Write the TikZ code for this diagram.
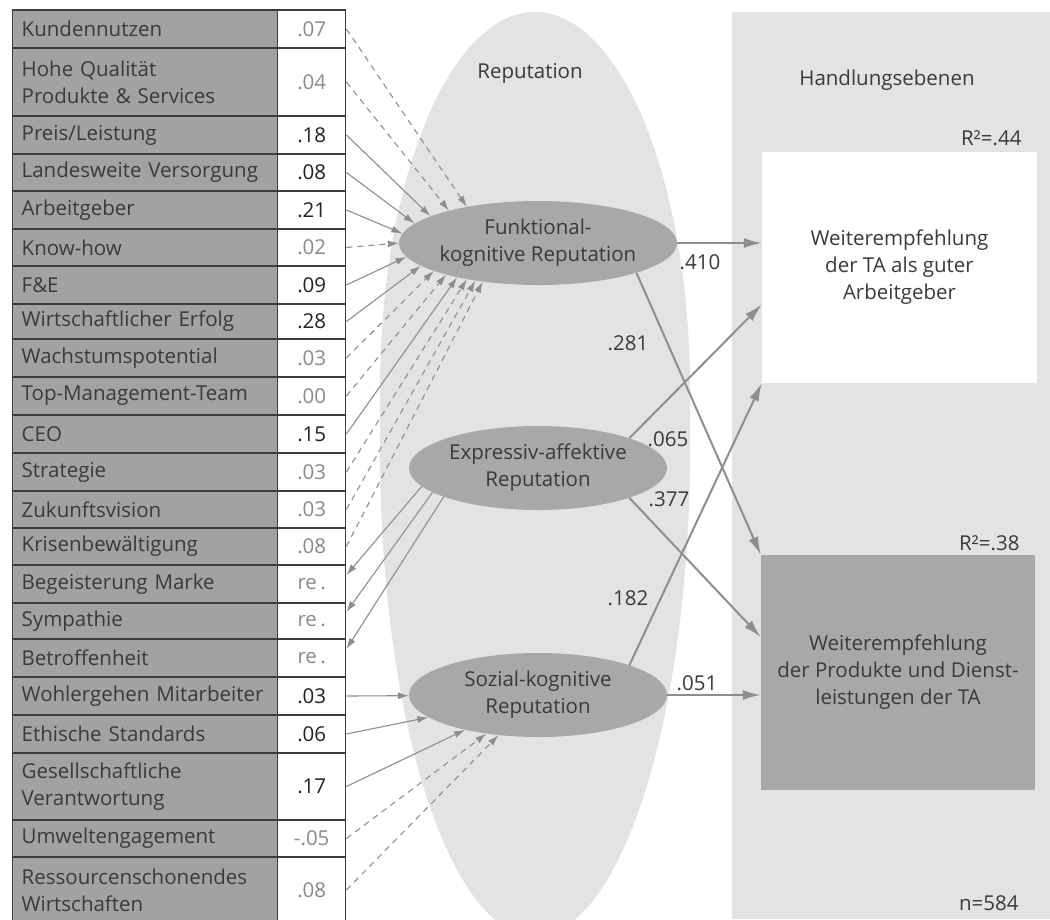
\documentclass[tikz,border=0pt]{standalone}
\usepackage{fontspec}
\setmainfont{Open Sans}
\usetikzlibrary{shapes.geometric,arrows.meta,calc}

\definecolor{inkdark}{HTML}{3A3A3A}
\definecolor{inkvalue}{HTML}{222222}
\definecolor{inklight}{HTML}{8A8A8A}
\definecolor{cellgray}{HTML}{A2A2A2}
\definecolor{paleband}{HTML}{E3E3E3}
\definecolor{latentgray}{HTML}{A8A8A8}
\definecolor{arrowgray}{HTML}{8E8E8E}
\definecolor{rulegray}{HTML}{3C3C3C}

\tikzset{
  txt/.style={font=\fontsize{20.5}{27}\selectfont, text=inkdark},
  labcell/.style={txt, draw=rulegray, line width=1.4pt, fill=cellgray,
    minimum width=265pt, text width=247pt, align=left,
    inner xsep=9pt, inner ysep=0pt, anchor=west},
  valcell/.style={txt, draw=rulegray, line width=1.4pt, fill=white,
    minimum width=68pt, inner sep=0pt, anchor=west},
  sigval/.style={text=inkvalue},
  nsval/.style={text=inklight},
  latent/.style={ellipse, fill=latentgray, minimum width=258pt,
    minimum height=84pt, align=center, txt, inner sep=0pt},
  target/.style={txt, align=center, inner sep=0pt},
  inarrow/.style={draw=arrowgray, line width=1.1pt, -{Latex[length=11pt,width=7pt]}},
  nsarrow/.style={inarrow, dash pattern=on 6pt off 5pt},
  outarrow/.style={draw=arrowgray, line width=2pt, -{Latex[length=18pt,width=10pt]}},
  coef/.style={txt, inner sep=1pt},
}

% one row of the indicator table: id, top, bottom, label, weight, weight style
\newcommand\tabrow[6]{%
  \node[labcell, minimum height={#3-#2}] (L#1) at (12,{(#2+#3)/2}) {#4};
  \node[valcell, minimum height={#3-#2}, #6] (V#1) at (277,{(#2+#3)/2}) {#5};
}

\begin{document}
\begin{tikzpicture}[x=1pt,y=-1pt]
\useasboundingbox (0,0) rectangle (1050,919);
\fill[white] (0,0) rectangle (1050,919);

% background bands
\fill[paleband] (732,12) rectangle (1050,919);
\fill[paleband] (380,390) arc[start angle=180, end angle=360, x radius=155, y radius=378]
  -- (690,448) arc[start angle=0, end angle=180, x radius=155, y radius=488] -- cycle;

\node[txt] (hdrRep) at (530,73) {Reputation};
\node[txt] (hdrAct) at (887,80) {Handlungsebenen};

% indicator table
\tabrow{1}{10}{48}{Kundennutzen}{.07}{nsval}
\tabrow{2}{48}{116}{Hohe Qualität\\Produkte \& Services}{.04}{nsval}
\tabrow{3}{116}{154}{Preis/Leistung}{.18}{sigval}
\tabrow{4}{154}{191}{Landesweite Versorgung}{.08}{sigval}
\tabrow{5}{191}{229}{Arbeitgeber}{.21}{sigval}
\tabrow{6}{229}{266}{Know-how}{.02}{nsval}
\tabrow{7}{266}{304}{F\&E}{.09}{sigval}
\tabrow{8}{304}{339}{Wirtschaftlicher Erfolg}{.28}{sigval}
\tabrow{9}{339}{377}{Wachstumspotential}{.03}{nsval}
\tabrow{10}{377}{415}{Top-Management-Team}{.00}{nsval}
\tabrow{11}{415}{453}{CEO}{.15}{sigval}
\tabrow{12}{453}{491}{Strategie}{.03}{nsval}
\tabrow{13}{491}{528}{Zukunftsvision}{.03}{nsval}
\tabrow{14}{528}{565}{Krisenbewältigung}{.08}{nsval}
\tabrow{15}{565}{603}{Begeisterung Marke}{re\,.}{nsval}
\tabrow{16}{603}{639}{Sympathie}{re\,.}{nsval}
\tabrow{17}{639}{677}{Betroffenheit}{re\,.}{nsval}
\tabrow{18}{677}{715}{Wohlergehen Mitarbeiter}{.03}{sigval}
\tabrow{19}{715}{753}{Ethische Standards}{.06}{sigval}
\tabrow{20}{753}{820}{Gesellschaftliche\\Verantwortung}{.17}{sigval}
\tabrow{21}{820}{857}{Umweltengagement}{-.05}{nsval}
\tabrow{22}{857}{923}{Ressourcenschonendes\\Wirtschaften}{.08}{nsval}

% latent reputation dimensions
\node[latent] (F) at (538,243) {Funktional-\\kognitive Reputation};
\node[latent] (E) at (538,468) {Expressiv-affektive\\Reputation};
\node[latent] (S) at (538,695) {Sozial-kognitive\\Reputation};

% outcome boxes
\node[target, fill=white, minimum width=275pt, minimum height=231pt] (W1) at (899.5,267.5)
  {Weiterempfehlung\\der TA als guter\\Arbeitgeber};
\node[target, fill=latentgray, minimum width=274pt, minimum height=235pt] (W2) at (898,672.5)
  {Weiterempfehlung\\der Produkte und Dienst-\\leistungen der TA};

\node[txt, anchor=east] (r1) at (1025,138) {R²=.44};
\node[txt, anchor=east] (r2) at (1023,543) {R²=.38};
\node[txt, anchor=east] (nn) at (1022,903) {n=584};

% formative indicators of the functional dimension (row/border angle)
\foreach \i/\a in {3/166,4/171,5/176,7/186,8/191,11/203}
  \draw[inarrow] (V\i.east) -- (F.\a);
\foreach \i/\a in {1/153,2/160,6/180,9/195,10/199,12/207,13/211,14/215}
  \draw[nsarrow] (V\i.east) -- (F.\a);
% reflective indicators of the affective dimension
\foreach \i/\a in {15/189,16/193,17/197}
  \draw[inarrow] (E.\a) -- ($(V\i.east)+(0,-9)$);
% formative indicators of the social dimension
\foreach \i in {18,19,20} \draw[inarrow] (V\i.east) -- (S);
\foreach \i in {21,22} \draw[nsarrow] (V\i.east) -- (S);

% structural paths
\draw[outarrow] (F.east) -- (F.east -| W1.west);
\draw[outarrow] (F.south east) -- (W2.north west);
\draw[outarrow] (E.north east) -- ($(W1.north west)!0.66!(W1.south west)$);
\draw[outarrow] (E.south east) -- ($(W2.north west)!0.35!(W2.south west)$);
\draw[outarrow] (S.north east) -- (W1.south west);
\draw[outarrow] (S.east) -- (S.east -| W2.west);

\node[coef] (c410) at (700,262) {.410};
\node[coef] (c281) at (628,343) {.281};
\node[coef] (c065) at (668,439) {.065};
\node[coef] (c377) at (669,499) {.377};
\node[coef] (c182) at (628,598) {.182};
\node[coef] (c051) at (697,683) {.051};
\end{tikzpicture}
\end{document}
